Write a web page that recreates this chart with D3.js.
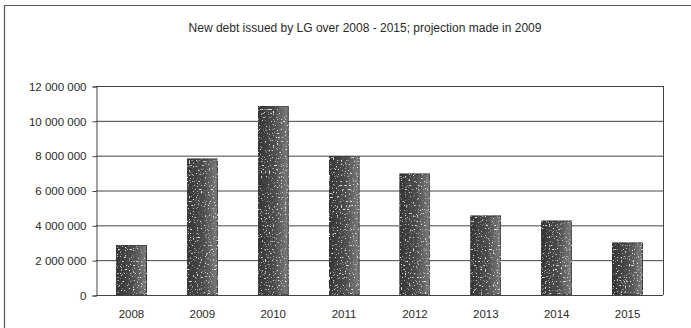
<!DOCTYPE html>
<html>
<head>
<meta charset="utf-8">
<script src="https://cdn.jsdelivr.net/npm/d3@7/dist/d3.min.js"></script>
<style>
  html, body { margin: 0; padding: 0; background: #fff; }
  svg { display: block; }
  text { font-family: "Liberation Sans", Arial, sans-serif; fill: #2a2a2a; }
</style>
</head>
<body>
<svg id="chart" width="691" height="328"></svg>
<script>
// New debt issued by local governments, 2008-2015 (projection)
const years = ["2008", "2009", "2010", "2011", "2012", "2013", "2014", "2015"];
const debtIssued = [2870000, 7810000, 10850000, 7980000, 6950000, 4540000, 4250000, 2990000];
const yTicks = [0, 2000000, 4000000, 6000000, 8000000, 10000000, 12000000];
const chartTitle = "New debt issued by LG over 2008 - 2015; projection made in 2009";

const W = 691, H = 328;
const margin = { top: 86, right: 28, bottom: 33, left: 96 };
const svg = d3.select("#chart");

const defs = svg.append("defs");
const grad = defs.append("linearGradient").attr("id", "barFill")
  .attr("x1", "0%").attr("x2", "100%").attr("y1", "0%").attr("y2", "0%");
grad.append("stop").attr("offset", "0%").attr("stop-color", "#353535");
grad.append("stop").attr("offset", "55%").attr("stop-color", "#4d4d4d");
grad.append("stop").attr("offset", "100%").attr("stop-color", "#7c7c7c");

// light speckled texture over the bar fill
const speck = defs.append("filter").attr("id", "speckle")
  .attr("x", "0").attr("y", "0").attr("width", "1").attr("height", "1");
speck.append("feTurbulence").attr("type", "fractalNoise")
  .attr("baseFrequency", "0.75").attr("numOctaves", 1).attr("seed", 5).attr("result", "noise");
speck.append("feColorMatrix").attr("in", "noise").attr("type", "matrix")
  .attr("values", "0 0 0 0 0.85  0 0 0 0 0.85  0 0 0 0 0.85  9 0 0 0 -5.6").attr("result", "dots");
speck.append("feComposite").attr("in", "dots").attr("in2", "SourceGraphic").attr("operator", "in").attr("result", "clipped");
const merge = speck.append("feMerge");
merge.append("feMergeNode").attr("in", "SourceGraphic");
merge.append("feMergeNode").attr("in", "clipped");

// outer frame
svg.append("path")
  .attr("d", `M4.5,${H} V5.5 H${W}`)
  .attr("fill", "none").attr("stroke", "#555").attr("stroke-width", 1.2);

svg.append("text")
  .attr("x", 365).attr("y", 32)
  .attr("text-anchor", "middle")
  .attr("font-size", 12)
  .text(chartTitle);

const x = d3.scaleBand()
  .domain(years)
  .range([margin.left, W - margin.right])
  .paddingInner(0.575)
  .paddingOuter(0.2875);

const y = d3.scaleLinear()
  .domain([0, 12000000])
  .range([H - margin.bottom, margin.top]);

const fmt = v => d3.format(",")(v).replace(/,/g, " ");

// gridlines
svg.append("g")
  .selectAll("line")
  .data(yTicks)
  .join("line")
  .attr("x1", margin.left).attr("x2", W - margin.right)
  .attr("y1", d => y(d) + 0.5).attr("y2", d => y(d) + 0.5)
  .attr("stroke", "#444").attr("stroke-width", 1);

// right border of plot area
svg.append("line")
  .attr("x1", W - margin.right + 0.5).attr("x2", W - margin.right + 0.5)
  .attr("y1", margin.top).attr("y2", H - margin.bottom)
  .attr("stroke", "#444");

// y axis
const yAxis = svg.append("g")
  .attr("transform", `translate(${margin.left + 0.5},0.5)`)
  .call(d3.axisLeft(y).tickValues(yTicks).tickFormat(fmt).tickSize(4).tickPadding(6));
yAxis.select(".domain").attr("stroke", "#444");
yAxis.selectAll(".tick line").attr("stroke", "#444");
yAxis.selectAll(".tick text")
  .attr("font-size", 11.5)
  .attr("font-family", "Liberation Sans, Arial, sans-serif")
  .attr("fill", "#2a2a2a");

// x axis labels
const xAxis = svg.append("g")
  .attr("transform", `translate(0,${H - margin.bottom + 0.5})`)
  .call(d3.axisBottom(x).tickSize(0).tickPadding(14));
xAxis.select(".domain").remove();
xAxis.selectAll(".tick text")
  .attr("font-size", 11.5)
  .attr("font-family", "Liberation Sans, Arial, sans-serif")
  .attr("fill", "#2a2a2a");

// bars
svg.append("g")
  .selectAll("rect")
  .data(years.map((yr, i) => ({ yr, v: debtIssued[i] })))
  .join("rect")
  .attr("x", d => x(d.yr))
  .attr("y", d => y(d.v))
  .attr("width", x.bandwidth())
  .attr("height", d => y(0) - y(d.v))
  .attr("fill", "url(#barFill)")
  .attr("stroke", "#333")
  .attr("stroke-width", 1)
  .attr("filter", "url(#speckle)");
</script>
</body>
</html>
